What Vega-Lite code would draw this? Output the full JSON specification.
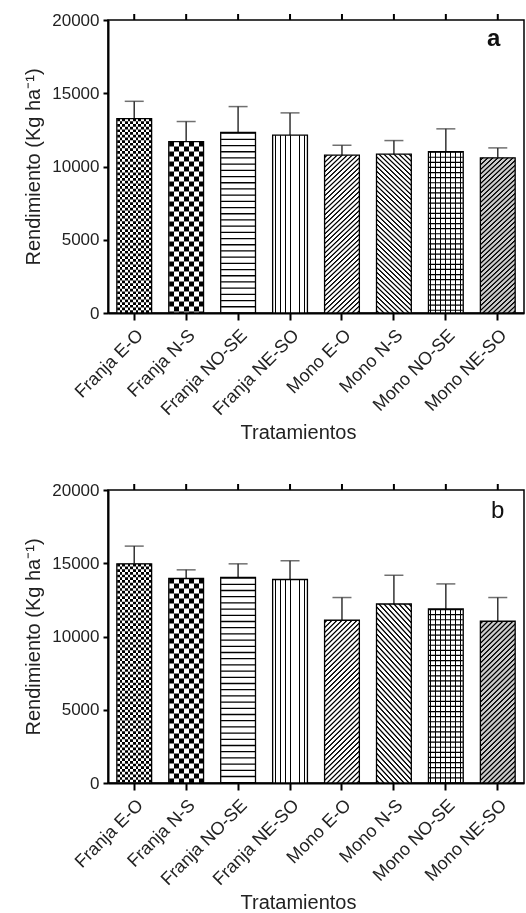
{
"$schema": "https://vega.github.io/schema/vega-lite/v6.json",
"padding": {"left": 22, "top": 10, "right": 0, "bottom": 2},
"background": "#ffffff",
"data": {"values": [
{"panel":"a","trat":"Franja E-O","rend":13270,"sup":14450},
{"panel":"a","trat":"Franja N-S","rend":11700,"sup":13070},
{"panel":"a","trat":"Franja NO-SE","rend":12320,"sup":14090},
{"panel":"a","trat":"Franja NE-SO","rend":12140,"sup":13660},
{"panel":"a","trat":"Mono E-O","rend":10770,"sup":11450},
{"panel":"a","trat":"Mono N-S","rend":10840,"sup":11770},
{"panel":"a","trat":"Mono NO-SE","rend":11020,"sup":12570},
{"panel":"a","trat":"Mono NE-SO","rend":10590,"sup":11270},
{"panel":"b","trat":"Franja E-O","rend":14960,"sup":16170},
{"panel":"b","trat":"Franja N-S","rend":13960,"sup":14550},
{"panel":"b","trat":"Franja NO-SE","rend":14030,"sup":14960},
{"panel":"b","trat":"Franja NE-SO","rend":13890,"sup":15170},
{"panel":"b","trat":"Mono E-O","rend":11110,"sup":12660},
{"panel":"b","trat":"Mono N-S","rend":12220,"sup":14180},
{"panel":"b","trat":"Mono NO-SE","rend":11880,"sup":13590},
{"panel":"b","trat":"Mono NE-SO","rend":11040,"sup":12660}
]},
"spacing": 36,
"vconcat": [
{
"transform": [{"filter": {"field": "panel", "equal": "a"}}],
"width": 416,
"height": 293,
"encoding": {
"x": {"field": "trat", "type": "nominal", "sort": ["Franja E-O","Franja N-S","Franja NO-SE","Franja NE-SO","Mono E-O","Mono N-S","Mono NO-SE","Mono NE-SO"], "scale": {"paddingInner": 0.33, "paddingOuter": 0.17},
 "axis": {"title": "Tratamientos", "labelAngle": -45, "labelFontSize": 18, "titleFontSize": 20, "titleX": 190, "tickSize": 7, "labelPadding": 6, "titlePadding": 4}},
"y": {"field": "rend", "type": "quantitative", "scale": {"domain": [0, 20000], "nice": false, "zero": true},
 "axis": {"title": "Rendimiento (Kg ha⁻¹)", "values": [0, 5000, 10000, 15000, 20000], "format": "d", "labelFontSize": 17, "titleFontSize": 20, "titlePadding": 8, "tickSize": 5, "labelPadding": 4}}
},
"layer": [
{"mark": {"type": "rule", "color": "#333", "strokeWidth": 1.5}, "encoding": {"y2": {"field": "sup"}}},
{"mark": {"type": "tick", "color": "#333", "size": 19, "thickness": 1.5}, "encoding": {"y": {"field": "sup", "type": "quantitative"}}},
{"mark": {"type": "bar"},
 "encoding": {
  "fill": {"field": "trat", "type": "nominal", "legend": null,
   "scale": {"domain": ["Franja E-O","Franja N-S","Franja NO-SE","Franja NE-SO","Mono E-O","Mono N-S","Mono NO-SE","Mono NE-SO"], "range": ["#ffffff","#ffffff","#ffffff","#ffffff","#ffffff","#ffffff","#ffffff","#cccccc"]}}
 }},
{"transform": [{"filter": {"field": "trat", "equal": "Franja E-O"}}],
 "mark": {"type": "rule", "color": "#000", "strokeWidth": 34, "strokeDash": [2.7, 2.7]}, "encoding": {"y2": {"datum": 0}}},
{"transform": [{"filter": {"field": "trat", "equal": "Franja N-S"}}],
 "mark": {"type": "rule", "color": "#000", "strokeWidth": 34, "strokeDash": [5, 5]}, "encoding": {"y2": {"datum": 0}}},
{"transform": [{"filter": {"field": "trat", "equal": "Franja E-O"}}],
 "mark": {"type": "bar", "blend": "difference", "fill": {"gradient": "linear", "x1": 0, "y1": 0, "x2": 1, "y2": 0, "stops": [
{"offset":0,"color":"#000"},{"offset":0.0769,"color":"#000"},{"offset":0.0769,"color":"#fff"},{"offset":0.1538,"color":"#fff"},
{"offset":0.1538,"color":"#000"},{"offset":0.2308,"color":"#000"},{"offset":0.2308,"color":"#fff"},{"offset":0.3077,"color":"#fff"},
{"offset":0.3077,"color":"#000"},{"offset":0.3846,"color":"#000"},{"offset":0.3846,"color":"#fff"},{"offset":0.4615,"color":"#fff"},
{"offset":0.4615,"color":"#000"},{"offset":0.5385,"color":"#000"},{"offset":0.5385,"color":"#fff"},{"offset":0.6154,"color":"#fff"},
{"offset":0.6154,"color":"#000"},{"offset":0.6923,"color":"#000"},{"offset":0.6923,"color":"#fff"},{"offset":0.7692,"color":"#fff"},
{"offset":0.7692,"color":"#000"},{"offset":0.8462,"color":"#000"},{"offset":0.8462,"color":"#fff"},{"offset":0.9231,"color":"#fff"},
{"offset":0.9231,"color":"#000"},{"offset":1,"color":"#000"}
]}}},
{"transform": [{"filter": {"field": "trat", "equal": "Franja N-S"}}],
 "mark": {"type": "bar", "blend": "difference", "fill": {"gradient": "linear", "x1": 0, "y1": 0, "x2": 1, "y2": 0, "stops": [
{"offset":0,"color":"#000"},{"offset":0.1429,"color":"#000"},{"offset":0.1429,"color":"#fff"},
{"offset":0.2857,"color":"#fff"},{"offset":0.2857,"color":"#000"},{"offset":0.4286,"color":"#000"},
{"offset":0.4286,"color":"#fff"},{"offset":0.5714,"color":"#fff"},{"offset":0.5714,"color":"#000"},
{"offset":0.7143,"color":"#000"},{"offset":0.7143,"color":"#fff"},{"offset":0.8571,"color":"#fff"},
{"offset":0.8571,"color":"#000"},{"offset":1,"color":"#000"}
]}}},
{"transform": [{"filter": {"field": "trat", "equal": "Franja NO-SE"}}],
 "mark": {"type": "rule", "color": "#000", "strokeWidth": 34, "strokeDash": [1.3, 4.9]}, "encoding": {"y2": {"datum": 0}}},
{"transform": [{"filter": {"field": "trat", "equal": "Mono NO-SE"}}],
 "mark": {"type": "rule", "color": "#000", "strokeWidth": 34, "strokeDash": [1.2, 3.9]}, "encoding": {"y2": {"datum": 0}}},
{"transform": [{"filter": {"field": "trat", "oneOf": ["Franja NE-SO", "Mono NO-SE"]}}],
 "mark": {"type": "bar", "blend": "multiply", "fill": {"gradient": "linear", "x1": 0, "y1": 0, "x2": 1, "y2": 0, "stops": [
{"offset":0.0571,"color":"#fff"},{"offset":0.0571,"color":"#000"},{"offset":0.0857,"color":"#000"},{"offset":0.0857,"color":"#fff"},
{"offset":0.2,"color":"#fff"},{"offset":0.2,"color":"#000"},{"offset":0.2286,"color":"#000"},{"offset":0.2286,"color":"#fff"},
{"offset":0.3429,"color":"#fff"},{"offset":0.3429,"color":"#000"},{"offset":0.3714,"color":"#000"},{"offset":0.3714,"color":"#fff"},
{"offset":0.4857,"color":"#fff"},{"offset":0.4857,"color":"#000"},{"offset":0.5143,"color":"#000"},{"offset":0.5143,"color":"#fff"}
]}}},
{"transform": [{"filter": {"field": "trat", "oneOf": ["Franja NE-SO", "Mono NO-SE"]}}],
 "mark": {"type": "bar", "blend": "multiply", "fill": {"gradient": "linear", "x1": 0, "y1": 0, "x2": 1, "y2": 0, "stops": [
{"offset":0.6286,"color":"#fff"},{"offset":0.6286,"color":"#000"},{"offset":0.6571,"color":"#000"},{"offset":0.6571,"color":"#fff"},
{"offset":0.7714,"color":"#fff"},{"offset":0.7714,"color":"#000"},{"offset":0.8,"color":"#000"},{"offset":0.8,"color":"#fff"},
{"offset":0.9143,"color":"#fff"},{"offset":0.9143,"color":"#000"},{"offset":0.9429,"color":"#000"},{"offset":0.9429,"color":"#fff"}
]}}},
{"transform": [{"filter": {"field": "trat", "oneOf": ["Mono E-O", "Mono NE-SO"]}}],
 "mark": {"type": "bar", "blend": "multiply", "fill": {"gradient": "linear", "x1": 0, "y1": 0, "x2": 0.0488, "y2": 0.232, "stops": [
{"offset":0.0275,"color":"#fff"},{"offset":0.0525,"color":"#000"},{"offset":0.0725,"color":"#000"},{"offset":0.0975,"color":"#fff"},
{"offset":0.1525,"color":"#fff"},{"offset":0.1775,"color":"#000"},{"offset":0.1975,"color":"#000"},{"offset":0.2225,"color":"#fff"},
{"offset":0.2775,"color":"#fff"},{"offset":0.3025,"color":"#000"},{"offset":0.3225,"color":"#000"},{"offset":0.3475,"color":"#fff"},
{"offset":0.4025,"color":"#fff"},{"offset":0.4275,"color":"#000"},{"offset":0.4475,"color":"#000"},{"offset":0.4725,"color":"#fff"},
{"offset":0.5275,"color":"#fff"},{"offset":0.5525,"color":"#000"},{"offset":0.5725,"color":"#000"},{"offset":0.5975,"color":"#fff"},
{"offset":0.6525,"color":"#fff"},{"offset":0.6775,"color":"#000"},{"offset":0.6975,"color":"#000"},{"offset":0.7225,"color":"#fff"},
{"offset":0.7775,"color":"#fff"},{"offset":0.8025,"color":"#000"},{"offset":0.8225,"color":"#000"},{"offset":0.8475,"color":"#fff"},
{"offset":0.9025,"color":"#fff"},{"offset":0.9275,"color":"#000"},{"offset":0.9475,"color":"#000"},{"offset":0.9725,"color":"#fff"}
]}}},
{"transform": [{"filter": {"field": "trat", "oneOf": ["Mono E-O", "Mono NE-SO"]}}],
 "mark": {"type": "bar", "blend": "multiply", "fill": {"gradient": "linear", "x1": 0.0488, "y1": 0.232, "x2": 0.0976, "y2": 0.464, "stops": [
{"offset":0.0275,"color":"#fff"},{"offset":0.0525,"color":"#000"},{"offset":0.0725,"color":"#000"},{"offset":0.0975,"color":"#fff"},
{"offset":0.1525,"color":"#fff"},{"offset":0.1775,"color":"#000"},{"offset":0.1975,"color":"#000"},{"offset":0.2225,"color":"#fff"},
{"offset":0.2775,"color":"#fff"},{"offset":0.3025,"color":"#000"},{"offset":0.3225,"color":"#000"},{"offset":0.3475,"color":"#fff"},
{"offset":0.4025,"color":"#fff"},{"offset":0.4275,"color":"#000"},{"offset":0.4475,"color":"#000"},{"offset":0.4725,"color":"#fff"},
{"offset":0.5275,"color":"#fff"},{"offset":0.5525,"color":"#000"},{"offset":0.5725,"color":"#000"},{"offset":0.5975,"color":"#fff"},
{"offset":0.6525,"color":"#fff"},{"offset":0.6775,"color":"#000"},{"offset":0.6975,"color":"#000"},{"offset":0.7225,"color":"#fff"},
{"offset":0.7775,"color":"#fff"},{"offset":0.8025,"color":"#000"},{"offset":0.8225,"color":"#000"},{"offset":0.8475,"color":"#fff"},
{"offset":0.9025,"color":"#fff"},{"offset":0.9275,"color":"#000"},{"offset":0.9475,"color":"#000"},{"offset":0.9725,"color":"#fff"}
]}}},
{"transform": [{"filter": {"field": "trat", "oneOf": ["Mono E-O", "Mono NE-SO"]}}],
 "mark": {"type": "bar", "blend": "multiply", "fill": {"gradient": "linear", "x1": 0.0976, "y1": 0.464, "x2": 0.1464, "y2": 0.696, "stops": [
{"offset":0.0275,"color":"#fff"},{"offset":0.0525,"color":"#000"},{"offset":0.0725,"color":"#000"},{"offset":0.0975,"color":"#fff"},
{"offset":0.1525,"color":"#fff"},{"offset":0.1775,"color":"#000"},{"offset":0.1975,"color":"#000"},{"offset":0.2225,"color":"#fff"},
{"offset":0.2775,"color":"#fff"},{"offset":0.3025,"color":"#000"},{"offset":0.3225,"color":"#000"},{"offset":0.3475,"color":"#fff"},
{"offset":0.4025,"color":"#fff"},{"offset":0.4275,"color":"#000"},{"offset":0.4475,"color":"#000"},{"offset":0.4725,"color":"#fff"},
{"offset":0.5275,"color":"#fff"},{"offset":0.5525,"color":"#000"},{"offset":0.5725,"color":"#000"},{"offset":0.5975,"color":"#fff"},
{"offset":0.6525,"color":"#fff"},{"offset":0.6775,"color":"#000"},{"offset":0.6975,"color":"#000"},{"offset":0.7225,"color":"#fff"},
{"offset":0.7775,"color":"#fff"},{"offset":0.8025,"color":"#000"},{"offset":0.8225,"color":"#000"},{"offset":0.8475,"color":"#fff"},
{"offset":0.9025,"color":"#fff"},{"offset":0.9275,"color":"#000"},{"offset":0.9475,"color":"#000"},{"offset":0.9725,"color":"#fff"}
]}}},
{"transform": [{"filter": {"field": "trat", "oneOf": ["Mono E-O", "Mono NE-SO"]}}],
 "mark": {"type": "bar", "blend": "multiply", "fill": {"gradient": "linear", "x1": 0.1464, "y1": 0.696, "x2": 0.1952, "y2": 0.928, "stops": [
{"offset":0.0275,"color":"#fff"},{"offset":0.0525,"color":"#000"},{"offset":0.0725,"color":"#000"},{"offset":0.0975,"color":"#fff"},
{"offset":0.1525,"color":"#fff"},{"offset":0.1775,"color":"#000"},{"offset":0.1975,"color":"#000"},{"offset":0.2225,"color":"#fff"},
{"offset":0.2775,"color":"#fff"},{"offset":0.3025,"color":"#000"},{"offset":0.3225,"color":"#000"},{"offset":0.3475,"color":"#fff"},
{"offset":0.4025,"color":"#fff"},{"offset":0.4275,"color":"#000"},{"offset":0.4475,"color":"#000"},{"offset":0.4725,"color":"#fff"},
{"offset":0.5275,"color":"#fff"},{"offset":0.5525,"color":"#000"},{"offset":0.5725,"color":"#000"},{"offset":0.5975,"color":"#fff"},
{"offset":0.6525,"color":"#fff"},{"offset":0.6775,"color":"#000"},{"offset":0.6975,"color":"#000"},{"offset":0.7225,"color":"#fff"},
{"offset":0.7775,"color":"#fff"},{"offset":0.8025,"color":"#000"},{"offset":0.8225,"color":"#000"},{"offset":0.8475,"color":"#fff"},
{"offset":0.9025,"color":"#fff"},{"offset":0.9275,"color":"#000"},{"offset":0.9475,"color":"#000"},{"offset":0.9725,"color":"#fff"}
]}}},
{"transform": [{"filter": {"field": "trat", "oneOf": ["Mono E-O", "Mono NE-SO"]}}],
 "mark": {"type": "bar", "blend": "multiply", "fill": {"gradient": "linear", "x1": 0.1952, "y1": 0.928, "x2": 0.244, "y2": 1.16, "stops": [
{"offset":0.0275,"color":"#fff"},{"offset":0.0525,"color":"#000"},{"offset":0.0725,"color":"#000"},{"offset":0.0975,"color":"#fff"},
{"offset":0.1525,"color":"#fff"},{"offset":0.1775,"color":"#000"},{"offset":0.1975,"color":"#000"},{"offset":0.2225,"color":"#fff"},
{"offset":0.2775,"color":"#fff"},{"offset":0.3025,"color":"#000"},{"offset":0.3225,"color":"#000"},{"offset":0.3475,"color":"#fff"},
{"offset":0.4025,"color":"#fff"},{"offset":0.4275,"color":"#000"},{"offset":0.4475,"color":"#000"},{"offset":0.4725,"color":"#fff"},
{"offset":0.5275,"color":"#fff"},{"offset":0.5525,"color":"#000"},{"offset":0.5725,"color":"#000"},{"offset":0.5975,"color":"#fff"},
{"offset":0.6525,"color":"#fff"},{"offset":0.6775,"color":"#000"},{"offset":0.6975,"color":"#000"},{"offset":0.7225,"color":"#fff"},
{"offset":0.7775,"color":"#fff"},{"offset":0.8025,"color":"#000"},{"offset":0.8225,"color":"#000"},{"offset":0.8475,"color":"#fff"},
{"offset":0.9025,"color":"#fff"},{"offset":0.9275,"color":"#000"},{"offset":0.9475,"color":"#000"},{"offset":0.9725,"color":"#fff"}
]}}},
{"transform": [{"filter": {"field": "trat", "equal": "Mono N-S"}}],
 "mark": {"type": "bar", "blend": "multiply", "fill": {"gradient": "linear", "x1": 0, "y1": 1, "x2": 0.0488, "y2": 0.768, "stops": [
{"offset":0.0275,"color":"#fff"},{"offset":0.0525,"color":"#000"},{"offset":0.0725,"color":"#000"},{"offset":0.0975,"color":"#fff"},
{"offset":0.1525,"color":"#fff"},{"offset":0.1775,"color":"#000"},{"offset":0.1975,"color":"#000"},{"offset":0.2225,"color":"#fff"},
{"offset":0.2775,"color":"#fff"},{"offset":0.3025,"color":"#000"},{"offset":0.3225,"color":"#000"},{"offset":0.3475,"color":"#fff"},
{"offset":0.4025,"color":"#fff"},{"offset":0.4275,"color":"#000"},{"offset":0.4475,"color":"#000"},{"offset":0.4725,"color":"#fff"},
{"offset":0.5275,"color":"#fff"},{"offset":0.5525,"color":"#000"},{"offset":0.5725,"color":"#000"},{"offset":0.5975,"color":"#fff"},
{"offset":0.6525,"color":"#fff"},{"offset":0.6775,"color":"#000"},{"offset":0.6975,"color":"#000"},{"offset":0.7225,"color":"#fff"},
{"offset":0.7775,"color":"#fff"},{"offset":0.8025,"color":"#000"},{"offset":0.8225,"color":"#000"},{"offset":0.8475,"color":"#fff"},
{"offset":0.9025,"color":"#fff"},{"offset":0.9275,"color":"#000"},{"offset":0.9475,"color":"#000"},{"offset":0.9725,"color":"#fff"}
]}}},
{"transform": [{"filter": {"field": "trat", "equal": "Mono N-S"}}],
 "mark": {"type": "bar", "blend": "multiply", "fill": {"gradient": "linear", "x1": 0.0488, "y1": 0.768, "x2": 0.0976, "y2": 0.536, "stops": [
{"offset":0.0275,"color":"#fff"},{"offset":0.0525,"color":"#000"},{"offset":0.0725,"color":"#000"},{"offset":0.0975,"color":"#fff"},
{"offset":0.1525,"color":"#fff"},{"offset":0.1775,"color":"#000"},{"offset":0.1975,"color":"#000"},{"offset":0.2225,"color":"#fff"},
{"offset":0.2775,"color":"#fff"},{"offset":0.3025,"color":"#000"},{"offset":0.3225,"color":"#000"},{"offset":0.3475,"color":"#fff"},
{"offset":0.4025,"color":"#fff"},{"offset":0.4275,"color":"#000"},{"offset":0.4475,"color":"#000"},{"offset":0.4725,"color":"#fff"},
{"offset":0.5275,"color":"#fff"},{"offset":0.5525,"color":"#000"},{"offset":0.5725,"color":"#000"},{"offset":0.5975,"color":"#fff"},
{"offset":0.6525,"color":"#fff"},{"offset":0.6775,"color":"#000"},{"offset":0.6975,"color":"#000"},{"offset":0.7225,"color":"#fff"},
{"offset":0.7775,"color":"#fff"},{"offset":0.8025,"color":"#000"},{"offset":0.8225,"color":"#000"},{"offset":0.8475,"color":"#fff"},
{"offset":0.9025,"color":"#fff"},{"offset":0.9275,"color":"#000"},{"offset":0.9475,"color":"#000"},{"offset":0.9725,"color":"#fff"}
]}}},
{"transform": [{"filter": {"field": "trat", "equal": "Mono N-S"}}],
 "mark": {"type": "bar", "blend": "multiply", "fill": {"gradient": "linear", "x1": 0.0976, "y1": 0.536, "x2": 0.1464, "y2": 0.304, "stops": [
{"offset":0.0275,"color":"#fff"},{"offset":0.0525,"color":"#000"},{"offset":0.0725,"color":"#000"},{"offset":0.0975,"color":"#fff"},
{"offset":0.1525,"color":"#fff"},{"offset":0.1775,"color":"#000"},{"offset":0.1975,"color":"#000"},{"offset":0.2225,"color":"#fff"},
{"offset":0.2775,"color":"#fff"},{"offset":0.3025,"color":"#000"},{"offset":0.3225,"color":"#000"},{"offset":0.3475,"color":"#fff"},
{"offset":0.4025,"color":"#fff"},{"offset":0.4275,"color":"#000"},{"offset":0.4475,"color":"#000"},{"offset":0.4725,"color":"#fff"},
{"offset":0.5275,"color":"#fff"},{"offset":0.5525,"color":"#000"},{"offset":0.5725,"color":"#000"},{"offset":0.5975,"color":"#fff"},
{"offset":0.6525,"color":"#fff"},{"offset":0.6775,"color":"#000"},{"offset":0.6975,"color":"#000"},{"offset":0.7225,"color":"#fff"},
{"offset":0.7775,"color":"#fff"},{"offset":0.8025,"color":"#000"},{"offset":0.8225,"color":"#000"},{"offset":0.8475,"color":"#fff"},
{"offset":0.9025,"color":"#fff"},{"offset":0.9275,"color":"#000"},{"offset":0.9475,"color":"#000"},{"offset":0.9725,"color":"#fff"}
]}}},
{"transform": [{"filter": {"field": "trat", "equal": "Mono N-S"}}],
 "mark": {"type": "bar", "blend": "multiply", "fill": {"gradient": "linear", "x1": 0.1464, "y1": 0.304, "x2": 0.1952, "y2": 0.072, "stops": [
{"offset":0.0275,"color":"#fff"},{"offset":0.0525,"color":"#000"},{"offset":0.0725,"color":"#000"},{"offset":0.0975,"color":"#fff"},
{"offset":0.1525,"color":"#fff"},{"offset":0.1775,"color":"#000"},{"offset":0.1975,"color":"#000"},{"offset":0.2225,"color":"#fff"},
{"offset":0.2775,"color":"#fff"},{"offset":0.3025,"color":"#000"},{"offset":0.3225,"color":"#000"},{"offset":0.3475,"color":"#fff"},
{"offset":0.4025,"color":"#fff"},{"offset":0.4275,"color":"#000"},{"offset":0.4475,"color":"#000"},{"offset":0.4725,"color":"#fff"},
{"offset":0.5275,"color":"#fff"},{"offset":0.5525,"color":"#000"},{"offset":0.5725,"color":"#000"},{"offset":0.5975,"color":"#fff"},
{"offset":0.6525,"color":"#fff"},{"offset":0.6775,"color":"#000"},{"offset":0.6975,"color":"#000"},{"offset":0.7225,"color":"#fff"},
{"offset":0.7775,"color":"#fff"},{"offset":0.8025,"color":"#000"},{"offset":0.8225,"color":"#000"},{"offset":0.8475,"color":"#fff"},
{"offset":0.9025,"color":"#fff"},{"offset":0.9275,"color":"#000"},{"offset":0.9475,"color":"#000"},{"offset":0.9725,"color":"#fff"}
]}}},
{"transform": [{"filter": {"field": "trat", "equal": "Mono N-S"}}],
 "mark": {"type": "bar", "blend": "multiply", "fill": {"gradient": "linear", "x1": 0.1952, "y1": 0.072, "x2": 0.244, "y2": -0.16, "stops": [
{"offset":0.0275,"color":"#fff"},{"offset":0.0525,"color":"#000"},{"offset":0.0725,"color":"#000"},{"offset":0.0975,"color":"#fff"},
{"offset":0.1525,"color":"#fff"},{"offset":0.1775,"color":"#000"},{"offset":0.1975,"color":"#000"},{"offset":0.2225,"color":"#fff"},
{"offset":0.2775,"color":"#fff"},{"offset":0.3025,"color":"#000"},{"offset":0.3225,"color":"#000"},{"offset":0.3475,"color":"#fff"},
{"offset":0.4025,"color":"#fff"},{"offset":0.4275,"color":"#000"},{"offset":0.4475,"color":"#000"},{"offset":0.4725,"color":"#fff"},
{"offset":0.5275,"color":"#fff"},{"offset":0.5525,"color":"#000"},{"offset":0.5725,"color":"#000"},{"offset":0.5975,"color":"#fff"},
{"offset":0.6525,"color":"#fff"},{"offset":0.6775,"color":"#000"},{"offset":0.6975,"color":"#000"},{"offset":0.7225,"color":"#fff"},
{"offset":0.7775,"color":"#fff"},{"offset":0.8025,"color":"#000"},{"offset":0.8225,"color":"#000"},{"offset":0.8475,"color":"#fff"},
{"offset":0.9025,"color":"#fff"},{"offset":0.9275,"color":"#000"},{"offset":0.9475,"color":"#000"},{"offset":0.9725,"color":"#fff"}
]}}},
{"mark": {"type": "bar", "filled": false, "color": "#000", "strokeWidth": 1.3}},
{"mark": {"type": "rule", "color": "#000", "strokeWidth": 2, "y2Offset": -6}, "encoding": {"y": {"datum": 20000}, "y2": {"datum": 20000}}},
{"transform": [{"filter": {"field": "trat", "equal": "Mono NE-SO"}}],
 "mark": {"type": "text", "text": "a", "fontSize": 24, "fontWeight": "bold", "baseline": "alphabetic", "align": "center", "dx": -4, "color": "#111"},
 "encoding": {"y": {"datum": 18200}}}
]
},
{
"transform": [{"filter": {"field": "panel", "equal": "b"}}],
"width": 416,
"height": 293,
"encoding": {
"x": {"field": "trat", "type": "nominal", "sort": ["Franja E-O","Franja N-S","Franja NO-SE","Franja NE-SO","Mono E-O","Mono N-S","Mono NO-SE","Mono NE-SO"], "scale": {"paddingInner": 0.33, "paddingOuter": 0.17},
 "axis": {"title": "Tratamientos", "labelAngle": -45, "labelFontSize": 18, "titleFontSize": 20, "titleX": 190, "tickSize": 7, "labelPadding": 6, "titlePadding": 4}},
"y": {"field": "rend", "type": "quantitative", "scale": {"domain": [0, 20000], "nice": false, "zero": true},
 "axis": {"title": "Rendimiento (Kg ha⁻¹)", "values": [0, 5000, 10000, 15000, 20000], "format": "d", "labelFontSize": 17, "titleFontSize": 20, "titlePadding": 8, "tickSize": 5, "labelPadding": 4}}
},
"layer": [
{"mark": {"type": "rule", "color": "#333", "strokeWidth": 1.5}, "encoding": {"y2": {"field": "sup"}}},
{"mark": {"type": "tick", "color": "#333", "size": 19, "thickness": 1.5}, "encoding": {"y": {"field": "sup", "type": "quantitative"}}},
{"mark": {"type": "bar"},
 "encoding": {
  "fill": {"field": "trat", "type": "nominal", "legend": null,
   "scale": {"domain": ["Franja E-O","Franja N-S","Franja NO-SE","Franja NE-SO","Mono E-O","Mono N-S","Mono NO-SE","Mono NE-SO"], "range": ["#ffffff","#ffffff","#ffffff","#ffffff","#ffffff","#ffffff","#ffffff","#cccccc"]}}
 }},
{"transform": [{"filter": {"field": "trat", "equal": "Franja E-O"}}],
 "mark": {"type": "rule", "color": "#000", "strokeWidth": 34, "strokeDash": [2.7, 2.7]}, "encoding": {"y2": {"datum": 0}}},
{"transform": [{"filter": {"field": "trat", "equal": "Franja N-S"}}],
 "mark": {"type": "rule", "color": "#000", "strokeWidth": 34, "strokeDash": [5, 5]}, "encoding": {"y2": {"datum": 0}}},
{"transform": [{"filter": {"field": "trat", "equal": "Franja E-O"}}],
 "mark": {"type": "bar", "blend": "difference", "fill": {"gradient": "linear", "x1": 0, "y1": 0, "x2": 1, "y2": 0, "stops": [
{"offset":0,"color":"#000"},{"offset":0.0769,"color":"#000"},{"offset":0.0769,"color":"#fff"},{"offset":0.1538,"color":"#fff"},
{"offset":0.1538,"color":"#000"},{"offset":0.2308,"color":"#000"},{"offset":0.2308,"color":"#fff"},{"offset":0.3077,"color":"#fff"},
{"offset":0.3077,"color":"#000"},{"offset":0.3846,"color":"#000"},{"offset":0.3846,"color":"#fff"},{"offset":0.4615,"color":"#fff"},
{"offset":0.4615,"color":"#000"},{"offset":0.5385,"color":"#000"},{"offset":0.5385,"color":"#fff"},{"offset":0.6154,"color":"#fff"},
{"offset":0.6154,"color":"#000"},{"offset":0.6923,"color":"#000"},{"offset":0.6923,"color":"#fff"},{"offset":0.7692,"color":"#fff"},
{"offset":0.7692,"color":"#000"},{"offset":0.8462,"color":"#000"},{"offset":0.8462,"color":"#fff"},{"offset":0.9231,"color":"#fff"},
{"offset":0.9231,"color":"#000"},{"offset":1,"color":"#000"}
]}}},
{"transform": [{"filter": {"field": "trat", "equal": "Franja N-S"}}],
 "mark": {"type": "bar", "blend": "difference", "fill": {"gradient": "linear", "x1": 0, "y1": 0, "x2": 1, "y2": 0, "stops": [
{"offset":0,"color":"#000"},{"offset":0.1429,"color":"#000"},{"offset":0.1429,"color":"#fff"},
{"offset":0.2857,"color":"#fff"},{"offset":0.2857,"color":"#000"},{"offset":0.4286,"color":"#000"},
{"offset":0.4286,"color":"#fff"},{"offset":0.5714,"color":"#fff"},{"offset":0.5714,"color":"#000"},
{"offset":0.7143,"color":"#000"},{"offset":0.7143,"color":"#fff"},{"offset":0.8571,"color":"#fff"},
{"offset":0.8571,"color":"#000"},{"offset":1,"color":"#000"}
]}}},
{"transform": [{"filter": {"field": "trat", "equal": "Franja NO-SE"}}],
 "mark": {"type": "rule", "color": "#000", "strokeWidth": 34, "strokeDash": [1.3, 4.9]}, "encoding": {"y2": {"datum": 0}}},
{"transform": [{"filter": {"field": "trat", "equal": "Mono NO-SE"}}],
 "mark": {"type": "rule", "color": "#000", "strokeWidth": 34, "strokeDash": [1.2, 3.9]}, "encoding": {"y2": {"datum": 0}}},
{"transform": [{"filter": {"field": "trat", "oneOf": ["Franja NE-SO", "Mono NO-SE"]}}],
 "mark": {"type": "bar", "blend": "multiply", "fill": {"gradient": "linear", "x1": 0, "y1": 0, "x2": 1, "y2": 0, "stops": [
{"offset":0.0571,"color":"#fff"},{"offset":0.0571,"color":"#000"},{"offset":0.0857,"color":"#000"},{"offset":0.0857,"color":"#fff"},
{"offset":0.2,"color":"#fff"},{"offset":0.2,"color":"#000"},{"offset":0.2286,"color":"#000"},{"offset":0.2286,"color":"#fff"},
{"offset":0.3429,"color":"#fff"},{"offset":0.3429,"color":"#000"},{"offset":0.3714,"color":"#000"},{"offset":0.3714,"color":"#fff"},
{"offset":0.4857,"color":"#fff"},{"offset":0.4857,"color":"#000"},{"offset":0.5143,"color":"#000"},{"offset":0.5143,"color":"#fff"}
]}}},
{"transform": [{"filter": {"field": "trat", "oneOf": ["Franja NE-SO", "Mono NO-SE"]}}],
 "mark": {"type": "bar", "blend": "multiply", "fill": {"gradient": "linear", "x1": 0, "y1": 0, "x2": 1, "y2": 0, "stops": [
{"offset":0.6286,"color":"#fff"},{"offset":0.6286,"color":"#000"},{"offset":0.6571,"color":"#000"},{"offset":0.6571,"color":"#fff"},
{"offset":0.7714,"color":"#fff"},{"offset":0.7714,"color":"#000"},{"offset":0.8,"color":"#000"},{"offset":0.8,"color":"#fff"},
{"offset":0.9143,"color":"#fff"},{"offset":0.9143,"color":"#000"},{"offset":0.9429,"color":"#000"},{"offset":0.9429,"color":"#fff"}
]}}},
{"transform": [{"filter": {"field": "trat", "oneOf": ["Mono E-O", "Mono NE-SO"]}}],
 "mark": {"type": "bar", "blend": "multiply", "fill": {"gradient": "linear", "x1": 0, "y1": 0, "x2": 0.0488, "y2": 0.232, "stops": [
{"offset":0.0275,"color":"#fff"},{"offset":0.0525,"color":"#000"},{"offset":0.0725,"color":"#000"},{"offset":0.0975,"color":"#fff"},
{"offset":0.1525,"color":"#fff"},{"offset":0.1775,"color":"#000"},{"offset":0.1975,"color":"#000"},{"offset":0.2225,"color":"#fff"},
{"offset":0.2775,"color":"#fff"},{"offset":0.3025,"color":"#000"},{"offset":0.3225,"color":"#000"},{"offset":0.3475,"color":"#fff"},
{"offset":0.4025,"color":"#fff"},{"offset":0.4275,"color":"#000"},{"offset":0.4475,"color":"#000"},{"offset":0.4725,"color":"#fff"},
{"offset":0.5275,"color":"#fff"},{"offset":0.5525,"color":"#000"},{"offset":0.5725,"color":"#000"},{"offset":0.5975,"color":"#fff"},
{"offset":0.6525,"color":"#fff"},{"offset":0.6775,"color":"#000"},{"offset":0.6975,"color":"#000"},{"offset":0.7225,"color":"#fff"},
{"offset":0.7775,"color":"#fff"},{"offset":0.8025,"color":"#000"},{"offset":0.8225,"color":"#000"},{"offset":0.8475,"color":"#fff"},
{"offset":0.9025,"color":"#fff"},{"offset":0.9275,"color":"#000"},{"offset":0.9475,"color":"#000"},{"offset":0.9725,"color":"#fff"}
]}}},
{"transform": [{"filter": {"field": "trat", "oneOf": ["Mono E-O", "Mono NE-SO"]}}],
 "mark": {"type": "bar", "blend": "multiply", "fill": {"gradient": "linear", "x1": 0.0488, "y1": 0.232, "x2": 0.0976, "y2": 0.464, "stops": [
{"offset":0.0275,"color":"#fff"},{"offset":0.0525,"color":"#000"},{"offset":0.0725,"color":"#000"},{"offset":0.0975,"color":"#fff"},
{"offset":0.1525,"color":"#fff"},{"offset":0.1775,"color":"#000"},{"offset":0.1975,"color":"#000"},{"offset":0.2225,"color":"#fff"},
{"offset":0.2775,"color":"#fff"},{"offset":0.3025,"color":"#000"},{"offset":0.3225,"color":"#000"},{"offset":0.3475,"color":"#fff"},
{"offset":0.4025,"color":"#fff"},{"offset":0.4275,"color":"#000"},{"offset":0.4475,"color":"#000"},{"offset":0.4725,"color":"#fff"},
{"offset":0.5275,"color":"#fff"},{"offset":0.5525,"color":"#000"},{"offset":0.5725,"color":"#000"},{"offset":0.5975,"color":"#fff"},
{"offset":0.6525,"color":"#fff"},{"offset":0.6775,"color":"#000"},{"offset":0.6975,"color":"#000"},{"offset":0.7225,"color":"#fff"},
{"offset":0.7775,"color":"#fff"},{"offset":0.8025,"color":"#000"},{"offset":0.8225,"color":"#000"},{"offset":0.8475,"color":"#fff"},
{"offset":0.9025,"color":"#fff"},{"offset":0.9275,"color":"#000"},{"offset":0.9475,"color":"#000"},{"offset":0.9725,"color":"#fff"}
]}}},
{"transform": [{"filter": {"field": "trat", "oneOf": ["Mono E-O", "Mono NE-SO"]}}],
 "mark": {"type": "bar", "blend": "multiply", "fill": {"gradient": "linear", "x1": 0.0976, "y1": 0.464, "x2": 0.1464, "y2": 0.696, "stops": [
{"offset":0.0275,"color":"#fff"},{"offset":0.0525,"color":"#000"},{"offset":0.0725,"color":"#000"},{"offset":0.0975,"color":"#fff"},
{"offset":0.1525,"color":"#fff"},{"offset":0.1775,"color":"#000"},{"offset":0.1975,"color":"#000"},{"offset":0.2225,"color":"#fff"},
{"offset":0.2775,"color":"#fff"},{"offset":0.3025,"color":"#000"},{"offset":0.3225,"color":"#000"},{"offset":0.3475,"color":"#fff"},
{"offset":0.4025,"color":"#fff"},{"offset":0.4275,"color":"#000"},{"offset":0.4475,"color":"#000"},{"offset":0.4725,"color":"#fff"},
{"offset":0.5275,"color":"#fff"},{"offset":0.5525,"color":"#000"},{"offset":0.5725,"color":"#000"},{"offset":0.5975,"color":"#fff"},
{"offset":0.6525,"color":"#fff"},{"offset":0.6775,"color":"#000"},{"offset":0.6975,"color":"#000"},{"offset":0.7225,"color":"#fff"},
{"offset":0.7775,"color":"#fff"},{"offset":0.8025,"color":"#000"},{"offset":0.8225,"color":"#000"},{"offset":0.8475,"color":"#fff"},
{"offset":0.9025,"color":"#fff"},{"offset":0.9275,"color":"#000"},{"offset":0.9475,"color":"#000"},{"offset":0.9725,"color":"#fff"}
]}}},
{"transform": [{"filter": {"field": "trat", "oneOf": ["Mono E-O", "Mono NE-SO"]}}],
 "mark": {"type": "bar", "blend": "multiply", "fill": {"gradient": "linear", "x1": 0.1464, "y1": 0.696, "x2": 0.1952, "y2": 0.928, "stops": [
{"offset":0.0275,"color":"#fff"},{"offset":0.0525,"color":"#000"},{"offset":0.0725,"color":"#000"},{"offset":0.0975,"color":"#fff"},
{"offset":0.1525,"color":"#fff"},{"offset":0.1775,"color":"#000"},{"offset":0.1975,"color":"#000"},{"offset":0.2225,"color":"#fff"},
{"offset":0.2775,"color":"#fff"},{"offset":0.3025,"color":"#000"},{"offset":0.3225,"color":"#000"},{"offset":0.3475,"color":"#fff"},
{"offset":0.4025,"color":"#fff"},{"offset":0.4275,"color":"#000"},{"offset":0.4475,"color":"#000"},{"offset":0.4725,"color":"#fff"},
{"offset":0.5275,"color":"#fff"},{"offset":0.5525,"color":"#000"},{"offset":0.5725,"color":"#000"},{"offset":0.5975,"color":"#fff"},
{"offset":0.6525,"color":"#fff"},{"offset":0.6775,"color":"#000"},{"offset":0.6975,"color":"#000"},{"offset":0.7225,"color":"#fff"},
{"offset":0.7775,"color":"#fff"},{"offset":0.8025,"color":"#000"},{"offset":0.8225,"color":"#000"},{"offset":0.8475,"color":"#fff"},
{"offset":0.9025,"color":"#fff"},{"offset":0.9275,"color":"#000"},{"offset":0.9475,"color":"#000"},{"offset":0.9725,"color":"#fff"}
]}}},
{"transform": [{"filter": {"field": "trat", "oneOf": ["Mono E-O", "Mono NE-SO"]}}],
 "mark": {"type": "bar", "blend": "multiply", "fill": {"gradient": "linear", "x1": 0.1952, "y1": 0.928, "x2": 0.244, "y2": 1.16, "stops": [
{"offset":0.0275,"color":"#fff"},{"offset":0.0525,"color":"#000"},{"offset":0.0725,"color":"#000"},{"offset":0.0975,"color":"#fff"},
{"offset":0.1525,"color":"#fff"},{"offset":0.1775,"color":"#000"},{"offset":0.1975,"color":"#000"},{"offset":0.2225,"color":"#fff"},
{"offset":0.2775,"color":"#fff"},{"offset":0.3025,"color":"#000"},{"offset":0.3225,"color":"#000"},{"offset":0.3475,"color":"#fff"},
{"offset":0.4025,"color":"#fff"},{"offset":0.4275,"color":"#000"},{"offset":0.4475,"color":"#000"},{"offset":0.4725,"color":"#fff"},
{"offset":0.5275,"color":"#fff"},{"offset":0.5525,"color":"#000"},{"offset":0.5725,"color":"#000"},{"offset":0.5975,"color":"#fff"},
{"offset":0.6525,"color":"#fff"},{"offset":0.6775,"color":"#000"},{"offset":0.6975,"color":"#000"},{"offset":0.7225,"color":"#fff"},
{"offset":0.7775,"color":"#fff"},{"offset":0.8025,"color":"#000"},{"offset":0.8225,"color":"#000"},{"offset":0.8475,"color":"#fff"},
{"offset":0.9025,"color":"#fff"},{"offset":0.9275,"color":"#000"},{"offset":0.9475,"color":"#000"},{"offset":0.9725,"color":"#fff"}
]}}},
{"transform": [{"filter": {"field": "trat", "equal": "Mono N-S"}}],
 "mark": {"type": "bar", "blend": "multiply", "fill": {"gradient": "linear", "x1": 0, "y1": 1, "x2": 0.0488, "y2": 0.768, "stops": [
{"offset":0.0275,"color":"#fff"},{"offset":0.0525,"color":"#000"},{"offset":0.0725,"color":"#000"},{"offset":0.0975,"color":"#fff"},
{"offset":0.1525,"color":"#fff"},{"offset":0.1775,"color":"#000"},{"offset":0.1975,"color":"#000"},{"offset":0.2225,"color":"#fff"},
{"offset":0.2775,"color":"#fff"},{"offset":0.3025,"color":"#000"},{"offset":0.3225,"color":"#000"},{"offset":0.3475,"color":"#fff"},
{"offset":0.4025,"color":"#fff"},{"offset":0.4275,"color":"#000"},{"offset":0.4475,"color":"#000"},{"offset":0.4725,"color":"#fff"},
{"offset":0.5275,"color":"#fff"},{"offset":0.5525,"color":"#000"},{"offset":0.5725,"color":"#000"},{"offset":0.5975,"color":"#fff"},
{"offset":0.6525,"color":"#fff"},{"offset":0.6775,"color":"#000"},{"offset":0.6975,"color":"#000"},{"offset":0.7225,"color":"#fff"},
{"offset":0.7775,"color":"#fff"},{"offset":0.8025,"color":"#000"},{"offset":0.8225,"color":"#000"},{"offset":0.8475,"color":"#fff"},
{"offset":0.9025,"color":"#fff"},{"offset":0.9275,"color":"#000"},{"offset":0.9475,"color":"#000"},{"offset":0.9725,"color":"#fff"}
]}}},
{"transform": [{"filter": {"field": "trat", "equal": "Mono N-S"}}],
 "mark": {"type": "bar", "blend": "multiply", "fill": {"gradient": "linear", "x1": 0.0488, "y1": 0.768, "x2": 0.0976, "y2": 0.536, "stops": [
{"offset":0.0275,"color":"#fff"},{"offset":0.0525,"color":"#000"},{"offset":0.0725,"color":"#000"},{"offset":0.0975,"color":"#fff"},
{"offset":0.1525,"color":"#fff"},{"offset":0.1775,"color":"#000"},{"offset":0.1975,"color":"#000"},{"offset":0.2225,"color":"#fff"},
{"offset":0.2775,"color":"#fff"},{"offset":0.3025,"color":"#000"},{"offset":0.3225,"color":"#000"},{"offset":0.3475,"color":"#fff"},
{"offset":0.4025,"color":"#fff"},{"offset":0.4275,"color":"#000"},{"offset":0.4475,"color":"#000"},{"offset":0.4725,"color":"#fff"},
{"offset":0.5275,"color":"#fff"},{"offset":0.5525,"color":"#000"},{"offset":0.5725,"color":"#000"},{"offset":0.5975,"color":"#fff"},
{"offset":0.6525,"color":"#fff"},{"offset":0.6775,"color":"#000"},{"offset":0.6975,"color":"#000"},{"offset":0.7225,"color":"#fff"},
{"offset":0.7775,"color":"#fff"},{"offset":0.8025,"color":"#000"},{"offset":0.8225,"color":"#000"},{"offset":0.8475,"color":"#fff"},
{"offset":0.9025,"color":"#fff"},{"offset":0.9275,"color":"#000"},{"offset":0.9475,"color":"#000"},{"offset":0.9725,"color":"#fff"}
]}}},
{"transform": [{"filter": {"field": "trat", "equal": "Mono N-S"}}],
 "mark": {"type": "bar", "blend": "multiply", "fill": {"gradient": "linear", "x1": 0.0976, "y1": 0.536, "x2": 0.1464, "y2": 0.304, "stops": [
{"offset":0.0275,"color":"#fff"},{"offset":0.0525,"color":"#000"},{"offset":0.0725,"color":"#000"},{"offset":0.0975,"color":"#fff"},
{"offset":0.1525,"color":"#fff"},{"offset":0.1775,"color":"#000"},{"offset":0.1975,"color":"#000"},{"offset":0.2225,"color":"#fff"},
{"offset":0.2775,"color":"#fff"},{"offset":0.3025,"color":"#000"},{"offset":0.3225,"color":"#000"},{"offset":0.3475,"color":"#fff"},
{"offset":0.4025,"color":"#fff"},{"offset":0.4275,"color":"#000"},{"offset":0.4475,"color":"#000"},{"offset":0.4725,"color":"#fff"},
{"offset":0.5275,"color":"#fff"},{"offset":0.5525,"color":"#000"},{"offset":0.5725,"color":"#000"},{"offset":0.5975,"color":"#fff"},
{"offset":0.6525,"color":"#fff"},{"offset":0.6775,"color":"#000"},{"offset":0.6975,"color":"#000"},{"offset":0.7225,"color":"#fff"},
{"offset":0.7775,"color":"#fff"},{"offset":0.8025,"color":"#000"},{"offset":0.8225,"color":"#000"},{"offset":0.8475,"color":"#fff"},
{"offset":0.9025,"color":"#fff"},{"offset":0.9275,"color":"#000"},{"offset":0.9475,"color":"#000"},{"offset":0.9725,"color":"#fff"}
]}}},
{"transform": [{"filter": {"field": "trat", "equal": "Mono N-S"}}],
 "mark": {"type": "bar", "blend": "multiply", "fill": {"gradient": "linear", "x1": 0.1464, "y1": 0.304, "x2": 0.1952, "y2": 0.072, "stops": [
{"offset":0.0275,"color":"#fff"},{"offset":0.0525,"color":"#000"},{"offset":0.0725,"color":"#000"},{"offset":0.0975,"color":"#fff"},
{"offset":0.1525,"color":"#fff"},{"offset":0.1775,"color":"#000"},{"offset":0.1975,"color":"#000"},{"offset":0.2225,"color":"#fff"},
{"offset":0.2775,"color":"#fff"},{"offset":0.3025,"color":"#000"},{"offset":0.3225,"color":"#000"},{"offset":0.3475,"color":"#fff"},
{"offset":0.4025,"color":"#fff"},{"offset":0.4275,"color":"#000"},{"offset":0.4475,"color":"#000"},{"offset":0.4725,"color":"#fff"},
{"offset":0.5275,"color":"#fff"},{"offset":0.5525,"color":"#000"},{"offset":0.5725,"color":"#000"},{"offset":0.5975,"color":"#fff"},
{"offset":0.6525,"color":"#fff"},{"offset":0.6775,"color":"#000"},{"offset":0.6975,"color":"#000"},{"offset":0.7225,"color":"#fff"},
{"offset":0.7775,"color":"#fff"},{"offset":0.8025,"color":"#000"},{"offset":0.8225,"color":"#000"},{"offset":0.8475,"color":"#fff"},
{"offset":0.9025,"color":"#fff"},{"offset":0.9275,"color":"#000"},{"offset":0.9475,"color":"#000"},{"offset":0.9725,"color":"#fff"}
]}}},
{"transform": [{"filter": {"field": "trat", "equal": "Mono N-S"}}],
 "mark": {"type": "bar", "blend": "multiply", "fill": {"gradient": "linear", "x1": 0.1952, "y1": 0.072, "x2": 0.244, "y2": -0.16, "stops": [
{"offset":0.0275,"color":"#fff"},{"offset":0.0525,"color":"#000"},{"offset":0.0725,"color":"#000"},{"offset":0.0975,"color":"#fff"},
{"offset":0.1525,"color":"#fff"},{"offset":0.1775,"color":"#000"},{"offset":0.1975,"color":"#000"},{"offset":0.2225,"color":"#fff"},
{"offset":0.2775,"color":"#fff"},{"offset":0.3025,"color":"#000"},{"offset":0.3225,"color":"#000"},{"offset":0.3475,"color":"#fff"},
{"offset":0.4025,"color":"#fff"},{"offset":0.4275,"color":"#000"},{"offset":0.4475,"color":"#000"},{"offset":0.4725,"color":"#fff"},
{"offset":0.5275,"color":"#fff"},{"offset":0.5525,"color":"#000"},{"offset":0.5725,"color":"#000"},{"offset":0.5975,"color":"#fff"},
{"offset":0.6525,"color":"#fff"},{"offset":0.6775,"color":"#000"},{"offset":0.6975,"color":"#000"},{"offset":0.7225,"color":"#fff"},
{"offset":0.7775,"color":"#fff"},{"offset":0.8025,"color":"#000"},{"offset":0.8225,"color":"#000"},{"offset":0.8475,"color":"#fff"},
{"offset":0.9025,"color":"#fff"},{"offset":0.9275,"color":"#000"},{"offset":0.9475,"color":"#000"},{"offset":0.9725,"color":"#fff"}
]}}},
{"mark": {"type": "bar", "filled": false, "color": "#000", "strokeWidth": 1.3}},
{"mark": {"type": "rule", "color": "#000", "strokeWidth": 2, "y2Offset": -6}, "encoding": {"y": {"datum": 20000}, "y2": {"datum": 20000}}},
{"transform": [{"filter": {"field": "trat", "equal": "Mono NE-SO"}}],
 "mark": {"type": "text", "text": "b", "fontSize": 24, "fontWeight": "normal", "baseline": "alphabetic", "align": "center", "color": "#111"},
 "encoding": {"y": {"datum": 18100}}}
]
}
],
"config": {
"font": "Liberation Sans",
"view": {"stroke": "#000", "strokeWidth": 1.5},
"axis": {"domainColor": "#000", "domainWidth": 2, "tickColor": "#000", "tickWidth": 2, "labelColor": "#222", "titleColor": "#222", "labelFont": "Liberation Sans", "titleFont": "Liberation Sans", "titleFontWeight": "normal", "grid": false}
}
}
